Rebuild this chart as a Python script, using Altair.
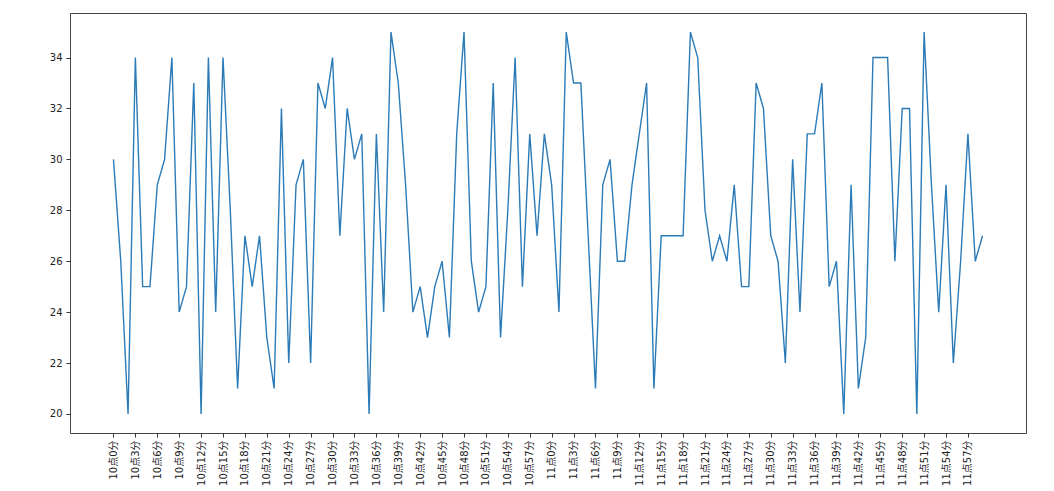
import json
import altair as alt
import pandas as pd

# minutes from 10:00 to 11:59
minute_index = list(range(120))
time_labels = [f"{10 + i // 60}点{i % 60}分" for i in minute_index]

temperature = [
    30, 26, 20, 34, 25, 25, 29, 30, 34, 24,
    25, 33, 20, 34, 24, 34, 28, 21, 27, 25,
    27, 23, 21, 32, 22, 29, 30, 22, 33, 32,
    34, 27, 32, 30, 31, 20, 31, 24, 35, 33,
    29, 24, 25, 23, 25, 26, 23, 31, 35, 26,
    24, 25, 33, 23, 28, 34, 25, 31, 27, 31,
    29, 24, 35, 33, 33, 27, 21, 29, 30, 26,
    26, 29, 31, 33, 21, 27, 27, 27, 27, 35,
    34, 28, 26, 27, 26, 29, 25, 25, 33, 32,
    27, 26, 22, 30, 24, 31, 31, 33, 25, 26,
    20, 29, 21, 23, 34, 34, 34, 26, 32, 32,
    20, 35, 29, 24, 29, 22, 26, 31, 26, 27,
]

tick_values = minute_index[::3]
y_ticks = [20, 22, 24, 26, 28, 30, 32, 34]

df = pd.DataFrame({"idx": minute_index, "temp": temperature})

label_expr = json.dumps(time_labels, ensure_ascii=False) + "[datum.value]"

chart = (
    alt.Chart(df)
    .mark_line(color="#2a7bb8", strokeWidth=1.4)
    .encode(
        x=alt.X(
            "idx:Q",
            scale=alt.Scale(domain=[-5.95, 124.95], nice=False, zero=False),
            axis=alt.Axis(
                values=tick_values,
                labelExpr=label_expr,
                labelAngle=270,
                title=None,
                grid=False,
                domain=False,
                tickSize=4,
                tickColor="#333333",
                labelColor="#222222",
                labelFontSize=10,
                labelPadding=3,
                labelFont="DejaVu Sans, Noto Sans CJK SC",
            ),
        ),
        y=alt.Y(
            "temp:Q",
            scale=alt.Scale(domain=[19.25, 35.75], nice=False, zero=False),
            axis=alt.Axis(
                values=y_ticks,
                title=None,
                grid=False,
                domain=False,
                tickSize=4,
                tickColor="#333333",
                labelColor="#222222",
                labelFontSize=10,
                labelPadding=4,
                labelFont="DejaVu Sans",
            ),
        ),
    )
    .properties(
        width=956,
        height=420,
        autosize=alt.AutoSizeParams(type="none"),
        padding={"left": 70, "top": 13, "right": 28, "bottom": 58},
    )
    .configure(background="white")
    .configure_view(stroke="#444444", strokeWidth=1)
)

chart.save("out.html", embed_options={"renderer": "svg", "actions": False})
